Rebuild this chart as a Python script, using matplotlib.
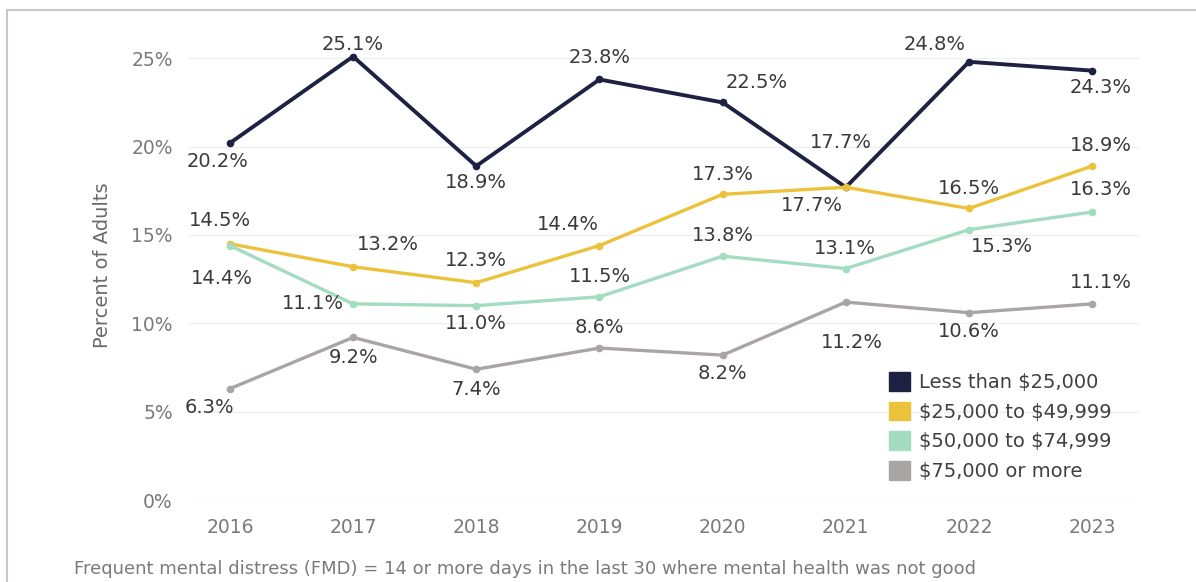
import matplotlib.pyplot as plt
from matplotlib.patches import Rectangle

years = ["2016", "2017", "2018", "2019", "2020", "2021", "2022", "2023"]
series_names = [r"Less than \$25,000", r"\$25,000 to \$49,999",
                r"\$50,000 to \$74,999", r"\$75,000 or more"]
under_25k = [20.2, 25.1, 18.9, 23.8, 22.5, 17.7, 24.8, 24.3]
from_25k = [14.5, 13.2, 12.3, 14.4, 17.3, 17.7, 16.5, 18.9]
from_50k = [14.4, 11.1, 11.0, 11.5, 13.8, 13.1, 15.3, 16.3]
over_75k = [6.3, 9.2, 7.4, 8.6, 8.2, 11.2, 10.6, 11.1]

colors = ["#1e2142", "#ecc23a", "#a3dcc0", "#aaa5a5"]

# label offsets (dx, dy) in pixels for every point of every line
offsets_px = [
    [(-12, -18), (0, 12), (0, -16), (0, 22), (34, 20), (-5, 45), (-34, 17), (8, -17)],
    [(-10, 23), (35, 22), (0, 22), (-32, 21), (0, 20), (-34, -18), (0, 20), (9, 21)],
    [(-8, -33), (-40, 0), (0, -18), (0, 20), (0, 21), (-1, 20), (33, -17), (9, 22)],
    [(-20, -19), (0, -20), (0, -20), (0, 21), (0, -18), (6, -40), (0, -19), (9, 21)],
]

fig = plt.figure(figsize=(11.96, 5.82), dpi=100)
fig.patches.append(Rectangle((7 / 1196, -0.1), 1.2, 1 - 10 / 582 + 0.1,
                             transform=fig.transFigure, fill=False,
                             edgecolor="#c8c8c8", linewidth=1.5))

ax = fig.add_axes([188 / 1196, 82 / 582, (1139 - 188) / 1196, (500 - 30) / 582])
x = range(len(years))
all_series = [under_25k, from_25k, from_50k, over_75k]
for vals, name, col, offs in zip(all_series, series_names, colors, offsets_px):
    lw = 2.8 if col == colors[0] else 2.4
    ax.plot(x, vals, color=col, lw=lw, marker="o", ms=4.5, label=name, zorder=3)
    for xi, v, (dx, dy) in zip(x, vals, offs):
        ax.annotate(f"{v:.1f}%", (xi, v), xytext=(dx * 0.72, dy * 0.72),
                    textcoords="offset points", ha="center", va="center",
                    fontsize=14, color="#3a3a3a")

ax.set_xlim(-0.34, 7.38)
ax.set_ylim(0, 26.6)
ax.set_yticks([0, 5, 10, 15, 20, 25])
ax.set_yticklabels([f"{t}%" for t in [0, 5, 10, 15, 20, 25]])
ax.set_xticks(list(x))
ax.set_xticklabels(years)
ax.tick_params(length=0, labelsize=13.5, labelcolor="#7a7a7a")
ax.tick_params(axis="y", pad=11)
ax.tick_params(axis="x", pad=13)
ax.grid(axis="y", color="#f0f0f0", lw=1)
ax.set_axisbelow(True)
for s in ax.spines.values():
    s.set_visible(False)
ax.set_ylabel("Percent of Adults", fontsize=14, color="#6a6a6a", labelpad=14)

handles = [Rectangle((0, 0), 1, 1, color=c) for c in colors]
ax.legend(handles, series_names, loc="upper left",
          bbox_to_anchor=(889 / 1196, 1 - 372 / 582), bbox_transform=fig.transFigure,
          frameon=False, fontsize=14, handlelength=1.1, handleheight=1.1,
          handletextpad=0.45, labelspacing=0.5, borderpad=0, borderaxespad=0,
          labelcolor="#404040")

fig.text(74 / 1196, 1 - 569 / 582,
         "Frequent mental distress (FMD) = 14 or more days in the last 30 where mental health was not good",
         fontsize=13, color="#7a7a7a", va="center")

fig.savefig("out.png", dpi=100)
